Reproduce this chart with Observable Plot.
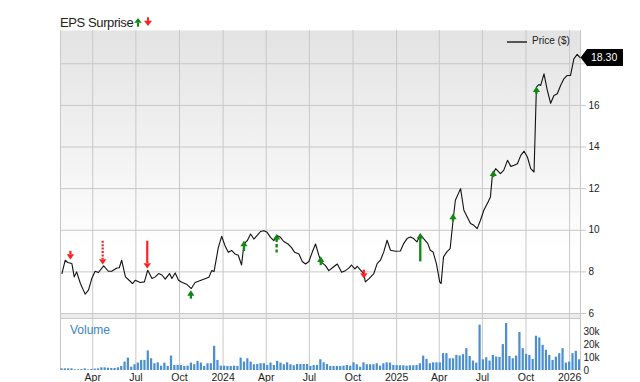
<!DOCTYPE html>
<html>
<head>
<meta charset="utf-8">
<script src="https://cdn.jsdelivr.net/npm/d3@7"></script>
<script src="https://cdn.jsdelivr.net/npm/@observablehq/plot@0.6"></script>
<style>
  html, body { margin: 0; padding: 0; background: #fff; }
  body { font-family: "Liberation Sans", Arial, sans-serif; }
  #wrap { position: relative; width: 640px; height: 382px; overflow: hidden; }
  #band { position: absolute; left: 60px; top: 312px; width: 520px; height: 5px; background: #ececec;
          border-top: 1px solid #c8c8c8; border-bottom: 1px solid #c8c8c8; }
  #price { position: absolute; left: 0; top: 0; }
  #vol { position: absolute; left: 0; top: 313px; }
  .title { position: absolute; left: 60px; top: 15px; font-size: 13px; line-height: 16px; letter-spacing: -0.4px; color: #222; white-space: nowrap; }
  .tarrows { position: absolute; left: 130px; top: 14px; }
  .legend { position: absolute; left: 532px; top: 35px; font-size: 10px; line-height: 12px; color: #222; white-space: nowrap; }
  .swatch { position: absolute; left: 507px; top: 41px; width: 20px; height: 2px; background: #555; }
  .vlabel { position: absolute; left: 70px; top: 323px; font-size: 12px; line-height: 14px; color: #3a86c8; }
  svg { overflow: visible; }
</style>
</head>
<body>
<div id="wrap">
  <div id="band"></div>
  <div id="price"></div>
  <div id="vol"></div>
  <div class="title">EPS Surprise</div>
  <svg class="tarrows" width="26" height="16" viewBox="0 0 26 16">
    <polygon points="8,4 4.3,8.7 11.7,8.7" fill="#118811"/>
    <rect x="7" y="8.7" width="2" height="4" fill="#118811"/>
    <rect x="17" y="3.3" width="2" height="3.6" fill="#ff2020"/>
    <polygon points="14,6.7 22,6.7 18,12" fill="#ff2020"/>
  </svg>
  <div class="swatch"></div>
  <div class="legend">Price ($)</div>
  <div class="vlabel">Volume</div>
</div>
<script>
// ---------------- DATA ----------------
const xStart = "2023-01-23";
const xEnd = "2026-01-24";

const xTickDates = ["2023-04-01","2023-07-01","2023-10-01","2024-01-01","2024-04-01","2024-07-01","2024-10-01","2025-01-01","2025-04-01","2025-07-01","2025-10-01","2026-01-01"];
const xTickLabels = ["Apr","Jul","Oct","2024","Apr","Jul","Oct","2025","Apr","Jul","Oct","2026"];
const priceGridTicks = [6, 8, 10, 12, 14, 16, 18];
const priceLabelTicks = [6, 8, 10, 12, 14, 16]; // 18 sits behind the last-price tag
const volTicks = [0, 10, 20, 30];

const priceDates = [
 "2023-01-26","2023-02-02","2023-02-07","2023-02-16","2023-02-21","2023-02-26","2023-03-06","2023-03-16","2023-03-23","2023-03-30",
 "2023-04-06","2023-04-13","2023-04-24","2023-05-04","2023-05-11","2023-05-22","2023-05-27","2023-06-01","2023-06-09","2023-06-19",
 "2023-06-24","2023-06-30","2023-07-10","2023-07-19","2023-07-26","2023-08-04","2023-08-11","2023-08-18","2023-08-25","2023-09-01",
 "2023-09-10","2023-09-15","2023-09-22","2023-09-29","2023-10-07","2023-10-17","2023-10-26","2023-11-03","2023-11-10","2023-11-21",
 "2023-12-02","2023-12-08","2023-12-13","2023-12-22","2023-12-29",
 "2024-01-05","2024-01-12","2024-01-19","2024-01-26","2024-02-02","2024-02-09","2024-02-14","2024-02-21","2024-02-28","2024-03-06",
 "2024-03-13","2024-03-20","2024-03-27","2024-04-03","2024-04-10","2024-04-17","2024-04-24","2024-05-01","2024-05-08","2024-05-17",
 "2024-05-24","2024-05-31","2024-06-09","2024-06-16","2024-06-23","2024-06-30","2024-07-07","2024-07-14","2024-07-21","2024-07-27",
 "2024-08-04","2024-08-11","2024-08-20","2024-08-29","2024-09-07","2024-09-15","2024-09-22","2024-09-28","2024-10-05","2024-10-10",
 "2024-10-17","2024-10-24","2024-10-27","2024-11-04","2024-11-14","2024-11-21","2024-11-28","2024-12-05","2024-12-12","2024-12-19",
 "2024-12-30",
 "2025-01-09","2025-01-16","2025-01-23","2025-01-30","2025-02-06","2025-02-13","2025-02-20","2025-02-27","2025-03-08","2025-03-13",
 "2025-03-19","2025-03-26","2025-04-02","2025-04-05","2025-04-10","2025-04-17","2025-04-24","2025-04-28","2025-05-01","2025-05-05",
 "2025-05-16","2025-05-23","2025-05-30","2025-06-06","2025-06-13","2025-06-20","2025-06-27","2025-07-04","2025-07-13","2025-07-18",
 "2025-07-22","2025-07-29","2025-08-08","2025-08-15","2025-08-23","2025-08-30","2025-09-06","2025-09-13","2025-09-20","2025-09-27",
 "2025-10-04","2025-10-11","2025-10-18","2025-10-23","2025-10-28","2025-11-01","2025-11-08","2025-11-15","2025-11-22","2025-11-29",
 "2025-12-06","2025-12-13","2025-12-20","2025-12-27",
 "2026-01-03","2026-01-10","2026-01-17","2026-01-23"
];
const priceValues = [
 7.92,8.56,8.45,8.40,7.76,8.00,7.44,6.93,7.12,7.68,
 8.03,7.97,8.29,8.03,8.03,8.19,8.20,8.56,7.76,7.55,
 7.44,7.60,7.49,7.52,8.08,7.68,7.76,7.92,7.85,7.65,
 7.92,7.68,7.95,7.60,7.49,7.39,7.20,7.49,7.55,7.65,
 7.74,8.06,8.02,9.18,9.71,
 9.26,8.94,9.03,8.86,8.80,8.33,9.34,9.50,9.82,9.58,
 9.75,9.94,9.98,9.90,9.66,9.50,9.75,9.66,9.46,9.34,
 9.18,8.94,8.86,8.50,8.38,8.50,8.94,9.34,8.79,8.46,
 8.30,8.06,8.22,8.38,7.98,8.06,8.18,8.33,8.14,8.27,
 8.08,7.90,7.52,7.68,7.92,8.40,8.56,8.96,9.52,9.04,
 8.99,
 9.00,9.36,9.60,9.68,9.60,9.44,9.81,9.60,9.36,9.04,
 8.96,8.40,7.52,7.44,8.72,8.96,9.12,10.00,10.64,11.44,
 12.00,10.96,10.64,10.32,10.24,10.08,10.48,10.96,11.36,11.60,
 12.64,12.96,12.72,12.88,13.36,13.07,13.12,13.20,13.60,13.80,
 13.52,12.96,12.80,16.88,17.00,16.96,17.52,16.72,16.10,16.48,
 16.56,16.96,17.28,17.44,
 17.44,18.24,18.45,18.30
];

// weekly volume, thousands of shares, weeks starting xStart
const volumes = [
 1.3,1.3,1.3,1.3,0.5,0.5,0.8,1.3,0.5,0.8,
 1.1,1.3,2.1,2.1,1.8,1.6,1.6,2.1,3.2,6.6,
 9.7,2.6,4.5,5.8,7.9,7.9,15.3,9.2,5.3,6.0,
 3.4,5.8,3.2,11.3,3.9,3.9,3.9,3.2,3.4,5.8,
 4.5,7.1,5.8,3.2,5.3,5.3,18.9,7.9,3.4,3.4,
 3.2,3.2,3.4,3.2,9.7,6.6,9.2,6.6,4.5,4.7,
 5.3,5.3,3.9,5.8,3.9,7.1,5.8,4.5,6.0,4.5,
 3.7,4.7,4.7,4.7,4.7,
 3.2,3.9,3.9,8.4,6.0,4.7,3.2,3.2,3.2,3.2,
 3.4,3.9,3.4,6.0,4.5,2.6,6.0,4.5,4.5,4.5,
 5.3,3.4,5.3,6.0,5.8,3.9,3.9,3.7,3.7,3.4,
 3.7,3.7,3.9,5.3,11.3,8.7,5.3,6.0,6.0,6.0,
 13.2,13.2,9.2,9.2,11.8,11.3,12.4,17.1,11.0,7.4,
 5.8,35.5,8.4,10.0,7.4,11.8,10.5,10.3,20.3,36.8,
 11.0,9.2,11.3,29.7,17.1,12.6,11.8,8.7,26.8,25.5,
 19.7,15.8,11.8,7.9,10.5,13.2,17.1,5.8,6.6,13.2,
 15.0,8.4
];

// EPS surprise arrows
const epsDates = ["2023-02-13","2023-04-22","2023-07-25","2023-10-25","2024-02-14","2024-04-23","2024-07-25","2024-10-24","2025-02-20","2025-04-30","2025-07-24","2025-10-23"];
const epsTip   = [8.59, 8.35, 8.16, 7.12, 9.50, 9.82, 8.75, 7.68, 9.87, 10.80, 12.88, 16.91];
const epsTail  = [8.99, 9.47, 9.47, 6.69, 8.98, 8.91, 8.30, 8.08, 8.48, 10.40, 12.53, 16.53];
const epsDir   = ["down","down","down","up","up","up","up","down","up","up","up","up"];
const epsStyle = ["solid","dotted","solid","solid","solid","dashed","solid","solid","solid","solid","solid","solid"];

// ---------------- BUILD ----------------
const FONT = "'Liberation Sans', Arial, sans-serif";
const GRID = "#c8c8c8";
const GREEN = "#118811";
const RED = "#ff2020";
const BLUE = "#4a8fd2";

const parse = d3.utcParse("%Y-%m-%d");
const xDomain = [parse(xStart), parse(xEnd)];
const xTicks = xTickDates.map(parse);
const labelMap = new Map(xTicks.map((d, i) => [+d, xTickLabels[i]]));

const price = priceDates.map((d, i) => ({date: parse(d), price: priceValues[i]}));
const last = price[price.length - 1];
const vol = volumes.map((v, i) => {
  const s = d3.utcDay.offset(xDomain[0], 7 * i);
  return {start: s, end: d3.utcDay.offset(s, 7), v};
});
const eps = epsDates.map((d, i) => ({date: parse(d), tip: epsTip[i], tail: epsTail[i], dir: epsDir[i], style: epsStyle[i]}));
const dashes = {solid: undefined, dotted: "2,1.4", dashed: "3.5,2"};

const upHead = {draw(ctx) { ctx.moveTo(0, 0); ctx.lineTo(3.6, 5.6); ctx.lineTo(-3.6, 5.6); ctx.closePath(); }};
const downHead = {draw(ctx) { ctx.moveTo(0, 0); ctx.lineTo(3.7, -5.4); ctx.lineTo(-3.7, -5.4); ctx.closePath(); }};
const tagShape = {draw(ctx) { ctx.moveTo(0.5, 0); ctx.lineTo(7, -8.5); ctx.lineTo(43, -8.5); ctx.lineTo(43, 8.5); ctx.lineTo(7, 8.5); ctx.closePath(); }};

const arrowMarks = [];
for (const s of ["solid", "dotted", "dashed"]) {
  const ups = eps.filter(d => d.dir === "up" && d.style === s);
  const downs = eps.filter(d => d.dir === "down" && d.style === s);
  if (ups.length) arrowMarks.push(Plot.ruleX(ups, {x: "date", y1: "tip", y2: "tail", insetTop: 5, stroke: GREEN, strokeWidth: 2.3, strokeDasharray: dashes[s]}));
  if (downs.length) arrowMarks.push(Plot.ruleX(downs, {x: "date", y1: "tail", y2: "tip", insetBottom: 5, stroke: RED, strokeWidth: 2.2, strokeDasharray: dashes[s]}));
}
arrowMarks.push(Plot.dot(eps.filter(d => d.dir === "up"), {x: "date", y: "tip", symbol: upHead, r: 4, fill: GREEN}));
arrowMarks.push(Plot.dot(eps.filter(d => d.dir === "down"), {x: "date", y: "tip", symbol: downHead, r: 4, fill: RED}));

const priceChart = Plot.plot({
  width: 640, height: 313,
  marginTop: 30, marginBottom: 0, marginLeft: 60, marginRight: 60,
  style: {background: "transparent", fontFamily: FONT, fontSize: "10px", color: "#222", overflow: "visible"},
  x: {type: "utc", domain: xDomain, axis: null},
  y: {domain: [6, 19.6]},
  marks: [
    Plot.frame({fill: "url(#pgrad)", stroke: "none"}),
    Plot.gridX({ticks: xTicks, stroke: GRID, strokeOpacity: 1}),
    Plot.gridY({ticks: priceGridTicks, stroke: GRID, strokeOpacity: 1}),
    Plot.axisY({anchor: "right", ticks: priceGridTicks, tickSize: 5, text: null, stroke: GRID, label: null}),
    Plot.axisY({anchor: "right", ticks: priceLabelTicks, tickSize: 5, tickPadding: 3, stroke: "none", fill: "#222", fontSize: 10, label: null}),
    Plot.ruleX(xDomain, {stroke: GRID}),
    Plot.lineY(price, {x: "date", y: "price", stroke: "#111", strokeWidth: 1.1}),
    ...arrowMarks,
    Plot.dot([last], {x: "date", y: "price", symbol: tagShape, r: 5, fill: "#000"}),
    Plot.text([last], {x: "date", y: "price", text: d => d.price.toFixed(2), dx: 11, textAnchor: "start", fill: "#fff", fontSize: 10.5})
  ]
});

// gradient background for the price panel
const ns = "http://www.w3.org/2000/svg";
const defs = document.createElementNS(ns, "defs");
const lg = document.createElementNS(ns, "linearGradient");
lg.setAttribute("id", "pgrad");
lg.setAttribute("x1", "0"); lg.setAttribute("y1", "0");
lg.setAttribute("x2", "0"); lg.setAttribute("y2", "1");
[["0", "#e3e3e3"], ["0.78", "#ffffff"], ["1", "#ffffff"]].forEach(([o, c]) => {
  const st = document.createElementNS(ns, "stop");
  st.setAttribute("offset", o); st.setAttribute("stop-color", c);
  lg.appendChild(st);
});
defs.appendChild(lg);
priceChart.insertBefore(defs, priceChart.firstChild);
document.getElementById("price").appendChild(priceChart);

const volChart = Plot.plot({
  width: 640, height: 69,
  marginTop: 0, marginBottom: 12, marginLeft: 60, marginRight: 60,
  style: {background: "transparent", fontFamily: FONT, fontSize: "10px", color: "#222", overflow: "visible"},
  x: {type: "utc", domain: xDomain},
  y: {domain: [0, 44.6]},
  marks: [
    Plot.gridX({ticks: xTicks, stroke: GRID, strokeOpacity: 1}),
    Plot.ruleX(xDomain, {stroke: GRID}),
    Plot.rectY(vol, {x1: "start", x2: "end", y: "v", fill: BLUE, insetLeft: 0.4, insetRight: 0.7, clip: true}),
    Plot.axisY({anchor: "right", ticks: volTicks, tickSize: 0, tickPadding: 3, tickFormat: d => d === 0 ? "0" : d + "k", fill: "#222", fontSize: 10, label: null}),
    Plot.axisX({ticks: xTicks, tickSize: 0, tickPadding: 3, tickFormat: d => labelMap.get(+d), fill: "#222", fontSize: 10.5, label: null})
  ]
});
document.getElementById("vol").appendChild(volChart);
</script>
</body>
</html>
